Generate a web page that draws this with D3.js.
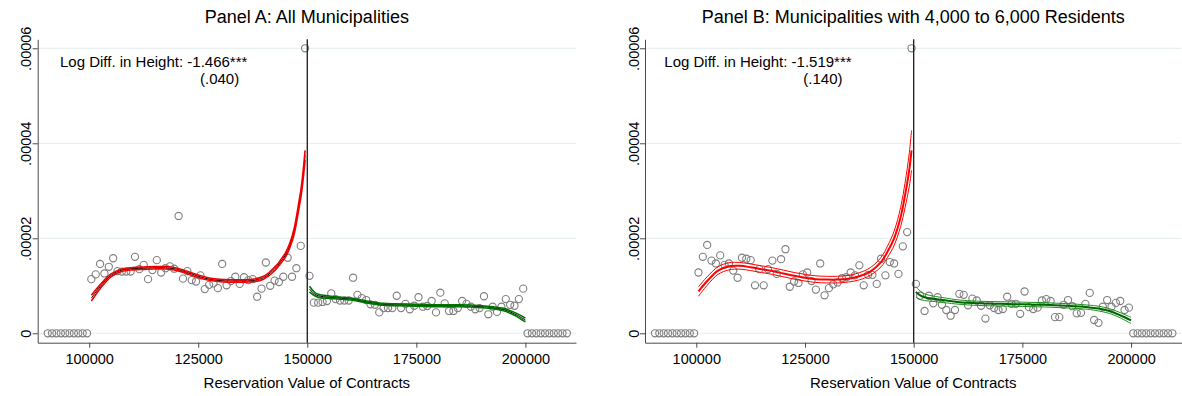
<!DOCTYPE html>
<html>
<head>
<meta charset="utf-8">
<script src="https://cdn.jsdelivr.net/npm/d3@7"></script>
<style>
  body { margin: 0; background: #fff; }
  svg { display: block; }
  text { font-family: "Liberation Sans", Arial, sans-serif; fill: #000; }
</style>
</head>
<body>
<svg id="chart" width="1182" height="396"></svg>
<script>
// ---- data (density values in units of 1e-5) ----
const cutoff = 150000;

// bin centres of the reservation value
const binsEmptyLow  = [90500, 91500, 92500, 93500, 94500, 95500, 96500, 97500, 98500, 99500];
const binsEmptyHigh = [200500, 201500, 202500, 203500, 204500, 205500, 206500, 207500, 208500, 209500];
const densEmpty     = [0, 0, 0, 0, 0, 0, 0, 0, 0, 0];

const binsBelow = [
  100500, 101500, 102500, 103500, 104500, 105500, 106500, 107500, 108500, 109500,
  110500, 111500, 112500, 113500, 114500, 115500, 116500, 117500, 118500, 119500,
  120500, 121500, 122500, 123500, 124500, 125500, 126500, 127500, 128500, 129500,
  130500, 131500, 132500, 133500, 134500, 135500, 136500, 137500, 138500, 139500,
  140500, 141500, 142500, 143500, 144500, 145500, 146500, 147500, 148500, 149500];
const binsAbove = [
  150500, 151500, 152500, 153500, 154500, 155500, 156500, 157500, 158500, 159500,
  160500, 161500, 162500, 163500, 164500, 165500, 166500, 167500, 168500, 169500,
  170500, 171500, 172500, 173500, 174500, 175500, 176500, 177500, 178500, 179500,
  180500, 181500, 182500, 183500, 184500, 185500, 186500, 187500, 188500, 189500,
  190500, 191500, 192500, 193500, 194500, 195500, 196500, 197500, 198500, 199500];

// Panel A: all municipalities
const densA_below = [
  1.14, 1.24, 1.46, 1.26, 1.40, 1.58, 1.31, 1.30, 1.30, 1.30,
  1.61, 1.35, 1.44, 1.14, 1.33, 1.54, 1.28, 1.37, 1.41, 1.36,
  2.47, 1.15, 1.31, 1.12, 1.09, 1.22, 0.93, 1.02, 1.05, 0.95,
  1.46, 1.01, 1.10, 1.19, 1.04, 1.18, 1.12, 1.14, 0.77, 0.94,
  1.49, 1.00, 1.11, 1.08, 1.19, 1.59, 1.19, 1.37, 1.84, 6.00];
const densA_above = [
  1.21, 0.645, 0.645, 0.66, 0.68, 0.84, 0.72, 0.69, 0.69, 0.69,
  1.17, 0.81, 0.74, 0.70, 0.61, 0.60, 0.44, 0.53, 0.53, 0.53,
  0.79, 0.53, 0.62, 0.505, 0.58, 0.76, 0.56, 0.575, 0.68, 0.44,
  0.855, 0.63, 0.47, 0.47, 0.53, 0.68, 0.62, 0.56, 0.505, 0.53,
  0.78, 0.40, 0.56, 0.45, 0.56, 0.72, 0.60, 0.58, 0.72, 0.94];

const fitA_belowX = [100500, 102500, 105000, 107500, 110000, 112500, 115000, 117500, 120000, 122500,
  125000, 127500, 130000, 132500, 135000, 137500, 140000, 141000, 142000, 143000,
  144000, 145000, 146000, 147000, 148000, 148700, 149500];
const fitA_below = [0.74, 0.98, 1.22, 1.33, 1.36, 1.37, 1.38, 1.38, 1.35, 1.28,
  1.20, 1.14, 1.11, 1.10, 1.10, 1.11, 1.17, 1.23, 1.31, 1.40,
  1.52, 1.65, 1.85, 2.15, 2.65, 3.05, 3.75];
const ciA_below = [0.06, 0.04, 0.03, 0.025, 0.025, 0.025, 0.025, 0.025, 0.025, 0.025,
  0.025, 0.025, 0.025, 0.025, 0.025, 0.025, 0.03, 0.03, 0.035, 0.035,
  0.04, 0.045, 0.05, 0.06, 0.07, 0.08, 0.10];

const fitA_aboveX = [150500, 151500, 152500, 155000, 157500, 160000, 162500, 165000, 167500, 170000,
  175000, 180000, 185000, 190000, 192500, 195000, 197500, 200000];
const fitA_above = [0.93, 0.84, 0.79, 0.76, 0.74, 0.72, 0.68, 0.64, 0.61, 0.60,
  0.59, 0.58, 0.58, 0.56, 0.54, 0.50, 0.41, 0.28];
const ciA_above = [0.06, 0.04, 0.03, 0.025, 0.02, 0.02, 0.02, 0.02, 0.02, 0.02,
  0.02, 0.02, 0.02, 0.02, 0.02, 0.025, 0.03, 0.04];

// Panel B: municipalities with 4,000 to 6,000 residents
const densB_below = [
  1.28, 1.61, 1.86, 1.53, 1.47, 1.64, 1.44, 1.47, 1.32, 1.17,
  1.59, 1.57, 1.54, 1.01, 1.35, 1.01, 1.35, 1.53, 1.25, 1.56,
  1.77, 0.98, 1.09, 1.06, 1.24, 1.28, 1.10, 0.92, 1.47, 0.80,
  0.95, 1.03, 1.07, 1.16, 1.18, 1.28, 1.22, 1.43, 1.01, 1.23,
  1.23, 1.04, 1.57, 1.22, 1.50, 1.47, 1.25, 1.83, 2.13, 6.00];
const densB_above = [
  1.04, 0.79, 0.47, 0.79, 0.63, 0.76, 0.60, 0.49, 0.37, 0.49,
  0.83, 0.81, 0.59, 0.73, 0.69, 0.58, 0.31, 0.59, 0.53, 0.49,
  0.51, 0.77, 0.62, 0.62, 0.41, 0.88, 0.55, 0.51, 0.54, 0.69,
  0.72, 0.68, 0.34, 0.34, 0.60, 0.70, 0.57, 0.42, 0.43, 0.62,
  0.85, 0.28, 0.22, 0.56, 0.70, 0.56, 0.64, 0.68, 0.49, 0.54];

const fitB_belowX = [100500, 102500, 105000, 107500, 110000, 112500, 115000, 117500, 120000, 122500,
  125000, 127500, 130000, 132500, 135000, 137500, 140000, 142500, 144000, 145500,
  147000, 148000, 149000, 149500];
const fitB_below = [0.88, 1.10, 1.32, 1.41, 1.42, 1.39, 1.35, 1.31, 1.26, 1.21,
  1.17, 1.14, 1.13, 1.13, 1.15, 1.20, 1.30, 1.50, 1.72, 2.00,
  2.45, 2.90, 3.45, 3.85];
const ciB_below = [0.10, 0.09, 0.08, 0.075, 0.07, 0.07, 0.07, 0.07, 0.07, 0.07,
  0.07, 0.07, 0.07, 0.07, 0.07, 0.075, 0.08, 0.10, 0.12, 0.15,
  0.20, 0.26, 0.35, 0.42];

const fitB_aboveX = [150500, 151500, 152500, 155000, 157500, 160000, 165000, 170000, 175000, 180000,
  185000, 190000, 192500, 195000, 197500, 200000];
const fitB_above = [0.87, 0.80, 0.76, 0.72, 0.69, 0.66, 0.63, 0.62, 0.61, 0.60,
  0.58, 0.55, 0.52, 0.47, 0.38, 0.27];
const ciB_above = [0.11, 0.09, 0.07, 0.055, 0.05, 0.045, 0.045, 0.045, 0.045, 0.045,
  0.045, 0.045, 0.05, 0.05, 0.055, 0.065];

// axis ticks
const xTicks = [100000, 125000, 150000, 175000, 200000];
const yTicks = [0, 2, 4, 6];
const yTickLabels = ["0", ".00002", ".00004", ".00006"];

// ---- layout ----
const svg = d3.select("#chart");
const xDomain = [88200, 211600];
const yDomain = [-0.198, 6.189];
const TOP = 39.3, BOTTOM = 342.7;

const panels = [
  {
    title: "Panel A: All Municipalities",
    stat: "Log Diff. in Height: -1.466***", se: "(.040)",
    left: 37.7, right: 576, statX: 60, seX: 200,
    below: densA_below, above: densA_above,
    fitBelow: { x: fitA_belowX, y: fitA_below, ci: ciA_below, color: "#f00000" },
    fitAbove: { x: fitA_aboveX, y: fitA_above, ci: ciA_above, color: "#007200" },
    centerColor: "#000", centerWidth: 1, ciWidth: 1.6, centerFirst: true
  },
  {
    title: "Panel B: Municipalities with 4,000 to 6,000 Residents",
    stat: "Log Diff. in Height: -1.519***", se: "(.140)",
    left: 645, right: 1181.5, statX: 664.3, seX: 803.3,
    below: densB_below, above: densB_above,
    fitBelow: { x: fitB_belowX, y: fitB_below, ci: ciB_below, color: "#ff0000", center: "#ff0000" },
    fitAbove: { x: fitB_aboveX, y: fitB_above, ci: ciB_above, color: "#1f8f1f", center: "#006400" },
    centerColor: null, centerWidth: 2, ciWidth: 1, centerFirst: false
  }
];

panels.forEach(drawPanel);

function drawPanel(p) {
  const x = d3.scaleLinear().domain(xDomain).range([p.left, p.right]);
  const y = d3.scaleLinear().domain(yDomain).range([BOTTOM, TOP]);
  const g = svg.append("g");

  // grid lines
  g.append("g").selectAll("line").data(yTicks).join("line")
    .attr("x1", p.left).attr("x2", p.right)
    .attr("y1", d => y(d)).attr("y2", d => y(d))
    .attr("stroke", "#e3ecef").attr("stroke-width", 1);

  // axes
  const yAxis = g.append("g").attr("transform", `translate(${p.left},0)`)
    .call(d3.axisLeft(y).tickValues(yTicks).tickSize(5).tickSizeOuter(0)
      .tickFormat((d, i) => yTickLabels[i]));
  yAxis.selectAll("text")
    .attr("x", 0).attr("y", -6.5).attr("dy", null)
    .attr("text-anchor", "middle")
    .attr("transform", "rotate(-90)")
    .style("font-size", "14.5px");

  const xAxis = g.append("g").attr("transform", `translate(0,${BOTTOM})`)
    .call(d3.axisBottom(x).tickValues(xTicks).tickSize(5).tickSizeOuter(0).tickPadding(6)
      .tickFormat(d3.format("d")));
  xAxis.selectAll("text").style("font-size", "14.5px");

  [yAxis, xAxis].forEach(a => {
    a.attr("font-family", null).attr("font-size", null);
    a.select(".domain").attr("stroke", "#4a4a4a");
    a.selectAll(".tick line").attr("stroke", "#4a4a4a");
    a.selectAll("text").attr("fill", "#000");
  });

  // binned densities
  const pts = []
    .concat(binsEmptyLow.map((b, i) => ({ x: b, y: densEmpty[i] })))
    .concat(binsBelow.map((b, i) => ({ x: b, y: p.below[i] })))
    .concat(binsAbove.map((b, i) => ({ x: b, y: p.above[i] })))
    .concat(binsEmptyHigh.map((b, i) => ({ x: b, y: densEmpty[i] })));

  g.append("g").selectAll("circle").data(pts).join("circle")
    .attr("cx", d => x(d.x)).attr("cy", d => y(d.y))
    .attr("r", 3.6)
    .attr("fill", "none").attr("stroke", "#7f7f7f").attr("stroke-width", 1.1);

  // fitted polynomials with confidence bands
  const line = d3.line().x(d => x(d.x)).y(d => y(d.y)).curve(d3.curveCatmullRom.alpha(0.5));

  [p.fitBelow, p.fitAbove].forEach(f => {
    const mid = f.x.map((v, i) => ({ x: v, y: f.y[i] }));
    const lo = f.x.map((v, i) => ({ x: v, y: f.y[i] - f.ci[i] }));
    const hi = f.x.map((v, i) => ({ x: v, y: f.y[i] + f.ci[i] }));
    const drawCenter = () => g.append("path").attr("d", line(mid))
      .attr("fill", "none")
      .attr("stroke", p.centerColor || f.center)
      .attr("stroke-width", p.centerWidth);
    const drawBand = () => [lo, hi].forEach(b => g.append("path").attr("d", line(b))
      .attr("fill", "none").attr("stroke", f.color).attr("stroke-width", p.ciWidth));
    if (p.centerFirst) { drawCenter(); drawBand(); }
    else { drawBand(); drawCenter(); }
  });

  // cutoff
  g.append("line")
    .attr("x1", x(cutoff)).attr("x2", x(cutoff))
    .attr("y1", TOP).attr("y2", BOTTOM)
    .attr("stroke", "#1a1a1a").attr("stroke-width", 1.3);

  // titles and notes
  g.append("text").attr("x", (p.left + p.right) / 2).attr("y", 23.3)
    .attr("text-anchor", "middle").style("font-size", "18px").text(p.title);
  g.append("text").attr("x", (p.left + p.right) / 2).attr("y", 388)
    .attr("text-anchor", "middle").style("font-size", "15px").text("Reservation Value of Contracts");
  g.append("text").attr("x", p.statX).attr("y", 67)
    .style("font-size", "15px").text(p.stat);
  g.append("text").attr("x", p.seX).attr("y", 84)
    .style("font-size", "15px").text(p.se);
}
</script>
</body>
</html>
